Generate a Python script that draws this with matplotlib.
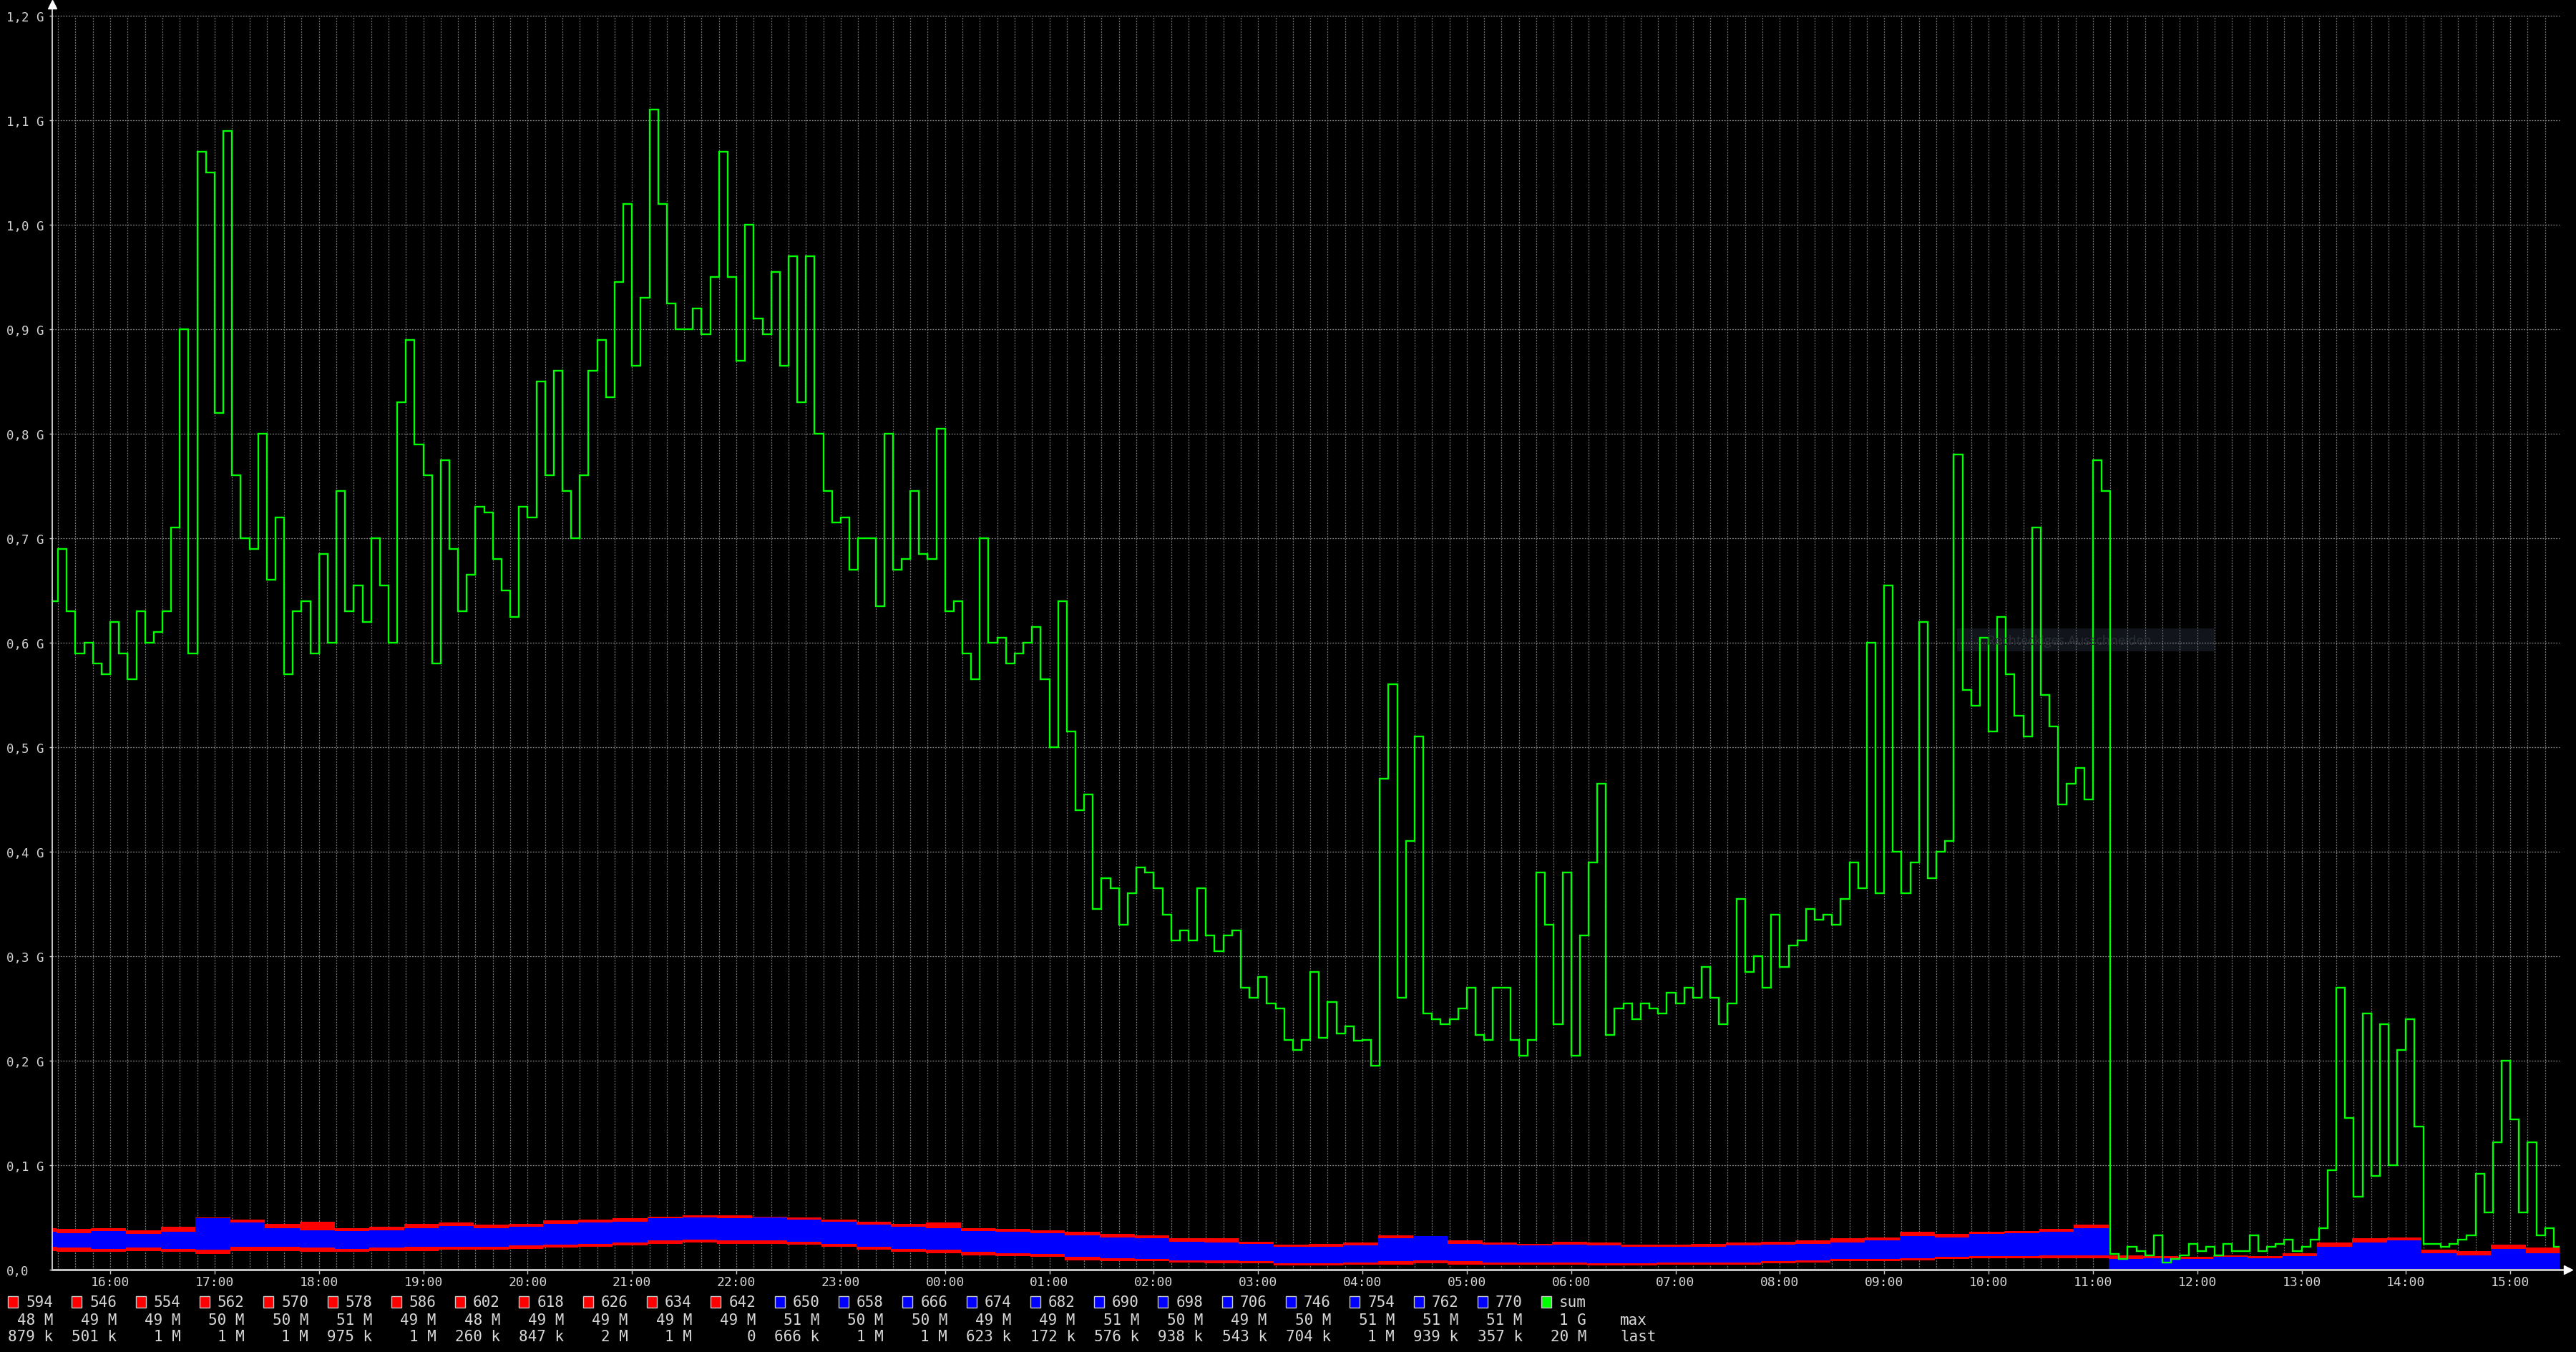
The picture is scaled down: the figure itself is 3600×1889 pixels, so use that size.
import numpy as np
import matplotlib
matplotlib.use("Agg")
from matplotlib import pyplot as plt
from matplotlib.patches import Rectangle

plt.rcParams["font.family"] = "DejaVu Sans Mono"

W, H = 3600, 1890

# sum line, 5 minute steps starting 15:25 (hours counted from day 1 midnight)
green_start = 15 + 25 / 60
green = [
    0.64, 0.69, 0.63, 0.59, 0.60, 0.58, 0.57,                                 # 15:25-15:55
    0.62, 0.59, 0.565, 0.63, 0.60, 0.61, 0.63, 0.71, 0.90, 0.59, 1.07, 1.05,  # 16
    0.82, 1.09, 0.76, 0.70, 0.69, 0.80, 0.66, 0.72, 0.57, 0.63, 0.64, 0.59,   # 17
    0.685, 0.60, 0.745, 0.63, 0.655, 0.62, 0.70, 0.655, 0.60, 0.83, 0.89, 0.79,  # 18
    0.76, 0.58, 0.775, 0.69, 0.63, 0.665, 0.73, 0.725, 0.68, 0.65, 0.625, 0.73,  # 19
    0.72, 0.85, 0.76, 0.86, 0.745, 0.70, 0.76, 0.86, 0.89, 0.835, 0.945, 1.02,   # 20
    0.865, 0.93, 1.11, 1.02, 0.925, 0.90, 0.90, 0.92, 0.895, 0.95, 1.07, 0.95,   # 21
    0.87, 1.00, 0.91, 0.895, 0.955, 0.865, 0.97, 0.83, 0.97, 0.80, 0.745, 0.715, # 22
    0.72, 0.67, 0.70, 0.70, 0.635, 0.80, 0.67, 0.68, 0.745, 0.685, 0.68, 0.805,  # 23
    0.63, 0.64, 0.59, 0.565, 0.70, 0.60, 0.605, 0.58, 0.59, 0.60, 0.615, 0.565,  # 00
    0.50, 0.64, 0.515, 0.44, 0.455, 0.345, 0.375, 0.365, 0.33, 0.36, 0.385, 0.38,  # 01
    0.365, 0.34, 0.315, 0.325, 0.315, 0.365, 0.32, 0.305, 0.32, 0.325, 0.27, 0.26,  # 02
    0.28, 0.255, 0.25, 0.22, 0.21, 0.22, 0.285, 0.222, 0.256, 0.226, 0.233, 0.219,  # 03
    0.22, 0.195, 0.47, 0.56, 0.26, 0.41, 0.51, 0.245, 0.24, 0.235, 0.24, 0.25,      # 04
    0.27, 0.225, 0.22, 0.27, 0.27, 0.22, 0.205, 0.22, 0.38, 0.33, 0.235, 0.38,      # 05
    0.205, 0.32, 0.39, 0.465, 0.225, 0.25, 0.255, 0.24, 0.255, 0.25, 0.245, 0.265,  # 06
    0.255, 0.27, 0.26, 0.29, 0.26, 0.235, 0.255, 0.355, 0.285, 0.30, 0.27, 0.34,    # 07
    0.29, 0.31, 0.315, 0.345, 0.335, 0.34, 0.33, 0.355, 0.39, 0.365, 0.60, 0.36,    # 08
    0.655, 0.40, 0.36, 0.39, 0.62, 0.375, 0.40, 0.41, 0.78, 0.555, 0.54, 0.605,     # 09
    0.515, 0.625, 0.57, 0.53, 0.51, 0.71, 0.55, 0.52, 0.445, 0.465, 0.48, 0.45,     # 10
    0.775, 0.745, 0.015, 0.01, 0.022, 0.018, 0.014, 0.033, 0.007, 0.01, 0.014, 0.025,  # 11
    0.018, 0.022, 0.014, 0.025, 0.018, 0.018, 0.033, 0.018, 0.022, 0.025, 0.029, 0.018,  # 12
    0.022, 0.029, 0.04, 0.095, 0.27, 0.145, 0.07, 0.245, 0.09, 0.235, 0.10, 0.21,   # 13
    0.24, 0.137, 0.025, 0.025, 0.022, 0.025, 0.029, 0.033, 0.092, 0.055, 0.122, 0.20,  # 14
    0.144, 0.055, 0.122, 0.033, 0.04, 0.022,                                        # 15:00-15:25
]

# per-host bands, 20 minute steps starting 15:09
band_start = 15 + 9 / 60
blue_hi = [0.036, 0.035, 0.037, 0.034, 0.036, 0.049, 0.045, 0.040, 0.038, 0.037,
           0.038, 0.040, 0.042, 0.040, 0.041, 0.044, 0.045, 0.046, 0.049, 0.050,
           0.049, 0.050, 0.048, 0.046, 0.043, 0.041, 0.040, 0.037, 0.036, 0.035,
           0.033, 0.031, 0.030, 0.027, 0.026, 0.025, 0.022, 0.022, 0.023, 0.030,
           0.032, 0.025, 0.024, 0.023, 0.024, 0.023, 0.022, 0.022, 0.022, 0.023,
           0.024, 0.025, 0.026, 0.028, 0.032, 0.031, 0.034, 0.035, 0.036, 0.040,
           0.010, 0.011, 0.010, 0.012, 0.011, 0.013, 0.022, 0.026, 0.028, 0.016,
           0.014, 0.020, 0.016, 0.016]
blue_lo = [0.022, 0.021, 0.020, 0.021, 0.020, 0.019, 0.022, 0.022, 0.021, 0.020,
           0.021, 0.022, 0.022, 0.022, 0.023, 0.024, 0.025, 0.026, 0.028, 0.029,
           0.028, 0.028, 0.027, 0.025, 0.022, 0.020, 0.019, 0.017, 0.016, 0.015,
           0.012, 0.011, 0.010, 0.009, 0.009, 0.008, 0.006, 0.006, 0.007, 0.008,
           0.009, 0.008, 0.007, 0.007, 0.007, 0.006, 0.006, 0.007, 0.007, 0.007,
           0.008, 0.009, 0.010, 0.010, 0.011, 0.012, 0.013, 0.013, 0.014, 0.014,
           0, 0, 0, 0, 0, 0, 0, 0, 0, 0,
           0, 0, 0, 0]
red_hi = [0.040, 0.039, 0.040, 0.038, 0.041, 0.050, 0.048, 0.044, 0.046, 0.040,
          0.041, 0.044, 0.045, 0.043, 0.044, 0.047, 0.048, 0.049, 0.051, 0.052,
          0.052, 0.051, 0.050, 0.048, 0.046, 0.044, 0.045, 0.040, 0.039, 0.038,
          0.036, 0.034, 0.033, 0.030, 0.030, 0.027, 0.024, 0.025, 0.026, 0.033,
          0.031, 0.028, 0.026, 0.025, 0.027, 0.026, 0.024, 0.024, 0.025, 0.026,
          0.027, 0.028, 0.030, 0.031, 0.036, 0.034, 0.036, 0.037, 0.039, 0.043,
          0.014, 0.013, 0.012, 0.014, 0.013, 0.016, 0.026, 0.030, 0.031, 0.019,
          0.018, 0.024, 0.021, 0.020]
red_lo = [0.018, 0.017, 0.017, 0.018, 0.017, 0.015, 0.018, 0.018, 0.017, 0.017,
          0.018, 0.018, 0.019, 0.019, 0.020, 0.021, 0.022, 0.023, 0.025, 0.026,
          0.025, 0.025, 0.024, 0.022, 0.019, 0.017, 0.016, 0.014, 0.013, 0.012,
          0.009, 0.008, 0.008, 0.007, 0.006, 0.006, 0.004, 0.004, 0.005, 0.005,
          0.006, 0.005, 0.005, 0.005, 0.005, 0.004, 0.004, 0.005, 0.005, 0.005,
          0.006, 0.007, 0.008, 0.008, 0.009, 0.010, 0.011, 0.011, 0.011, 0.011,
          0, 0, 0, 0, 0, 0, 0, 0, 0, 0,
          0, 0, 0, 0]

hours = list(range(16, 40))
hour_labels = ["%02d:00" % (h % 24) for h in hours]
y_values = [i / 10 for i in range(13)]
y_labels = ["0,0"] + ["%d,%d G" % divmod(i, 10) for i in range(1, 13)]

legend_ids = ["594", "546", "554", "562", "570", "578", "586", "602", "618", "626",
              "634", "642", "650", "658", "666", "674", "682", "690", "698", "706",
              "746", "754", "762", "770", "sum"]
legend_colors = ["#ff0000"] * 12 + ["#0000ff"] * 12 + ["#00ff00"]
legend_max = ["48 M", "49 M", "49 M", "50 M", "50 M", "51 M", "49 M", "48 M", "49 M",
              "49 M", "49 M", "49 M", "51 M", "50 M", "50 M", "49 M", "49 M", "51 M",
              "50 M", "49 M", "50 M", "51 M", "51 M", "51 M", "1 G"]
legend_last = ["879 k", "501 k", "1 M", "1 M", "1 M", "975 k", "1 M", "260 k", "847 k",
               "2 M", "1 M", "0", "666 k", "1 M", "1 M", "623 k", "172 k", "576 k",
               "938 k", "543 k", "704 k", "1 M", "939 k", "357 k", "20 M"]

fig = plt.figure(figsize=(W / 100, H / 100), dpi=100, facecolor="black")
ax = fig.add_axes([73 / W, (H - 1775) / H, (3577 - 73) / W, (1775 - 23) / H],
                  facecolor="black")
ax.set_xlim(15.444, 39.472)
ax.set_ylim(0, 1.2)
for s in ax.spines.values():
    s.set_visible(False)

# grid
grid_col = "#8a8a8a"
for v in y_values[1:]:
    ax.axhline(v, color=grid_col, lw=0.9, ls=(0, (1.5, 1.5)), zorder=1, clip_on=False)
for m in range(144):
    ax.axvline(15.5 + m / 6, color="#7a7a7a", lw=0.9, ls=(0, (1.5, 1.5)), zorder=1)

# snipping tool tooltip left in the screenshot
ax.add_patch(Rectangle((2735 / W, 1 - 911 / H), 360 / W, 32 / H, transform=fig.transFigure,
                       facecolor="#11151b", edgecolor="none", zorder=0.5))
fig.text(2777 / W, 1 - 896 / H, "Rechteckiges Ausschneiden", color="#2b2f36",
         fontsize=13, family="Open Sans", va="center", ha="left", zorder=0.6)

# bands
band_edges = band_start + np.arange(len(blue_hi) + 1) / 3
ax.stairs(red_hi, band_edges, baseline=red_lo, fill=True, color="#ff0000", zorder=2)
ax.stairs(blue_hi, band_edges, baseline=blue_lo, fill=True, color="#0000ff", zorder=3)

# sum
green_edges = green_start + np.arange(len(green) + 1) / 12
ax.stairs(green, green_edges, baseline=None, color="#00ff00", lw=1.7, zorder=4)

# axes lines and arrows
ax.plot([0, 0], [0, 1.008], transform=ax.transAxes, color="#c8c8c8", lw=1.4,
        clip_on=False, zorder=5)
ax.plot([0, 1.004], [0, 0], transform=ax.transAxes, color="#c0c0c0", lw=2.2,
        clip_on=False, zorder=5)
ax.plot([0], [1.009], marker="^", ms=8, color="white", transform=ax.transAxes,
        clip_on=False, zorder=6)
ax.plot([1.0035], [0], marker=">", ms=8, color="white", transform=ax.transAxes,
        clip_on=False, zorder=6)

ax.set_xticks(hours)
ax.set_xticklabels(hour_labels)
ax.set_yticks(y_values)
ax.set_yticklabels(y_labels)
ax.tick_params(axis="x", length=4, width=1, color="#c8c8c8", pad=1.5,
               labelsize=13, labelcolor="#d4d4d4")
ax.tick_params(axis="y", length=3, width=1, color="#c8c8c8", pad=43,
               labelsize=12.5, labelcolor="#d4d4d4")
for lab in ax.get_yticklabels():
    lab.set_ha("left")

# legend
txt_col = "#d8d8d8"
for i, (name, col, mx, last) in enumerate(zip(legend_ids, legend_colors,
                                              legend_max, legend_last)):
    x0 = 11 + 89.3 * i
    fig.patches.append(Rectangle((x0 / W, 1 - 1828 / H), 14 / W, 16 / H,
                                 transform=fig.transFigure, facecolor=col,
                                 edgecolor="#c8c8c8", lw=1.0))
    fig.text((x0 + 25) / W, 1 - 1820 / H, name, color=txt_col, fontsize=15,
             va="center", ha="left")
    fig.text((x0 + 63) / W, 1 - 1845 / H, mx, color=txt_col, fontsize=15,
             va="center", ha="right")
    fig.text((x0 + 63) / W, 1 - 1868 / H, last, color=txt_col, fontsize=15,
             va="center", ha="right")
fig.text(2264 / W, 1 - 1845 / H, "max", color=txt_col, fontsize=15, va="center", ha="left")
fig.text(2264 / W, 1 - 1868 / H, "last", color=txt_col, fontsize=15, va="center", ha="left")

fig.savefig("out.png", dpi=100, facecolor="black")
